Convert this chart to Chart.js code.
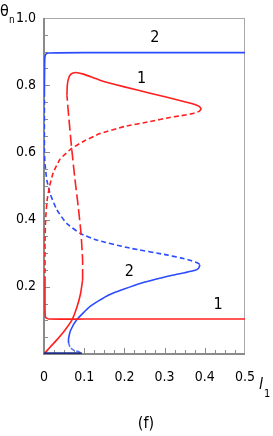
<!DOCTYPE html>
<html>
<head>
<meta charset="utf-8">
<script src="https://cdn.jsdelivr.net/npm/chart.js@4/dist/chart.umd.min.js"></script>
<style>
  body { margin: 0; background: #fff; }
  canvas { display: block; }
</style>
</head>
<body>
<canvas id="myChart" width="273" height="436"></canvas>
<script>
// axis ticks
const xTicks = [0, 0.1, 0.2, 0.3, 0.4, 0.5];
const yTicks = [0, 0.2, 0.4, 0.6, 0.8, 1.0];

// curve 1 (red)
const red_lowSolid = [[0,0],[0.015,0.02],[0.032,0.042],[0.052,0.071],[0.069,0.1],[0.082,0.14],[0.091,0.18],[0.096,0.22]];
const red_longDash = [[0.096,0.22],[0.096,0.28],[0.092,0.36],[0.085,0.44],[0.077,0.52],[0.069,0.61],[0.062,0.70],[0.057,0.77]];
const red_upperSolid = [[0.057,0.77],[0.058,0.80],[0.061,0.82],[0.067,0.833],[0.078,0.838],[0.098,0.833],[0.139,0.815],[0.2,0.795],[0.264,0.776],[0.306,0.764],[0.34,0.754],[0.365,0.746],[0.38,0.74],[0.388,0.735],[0.391,0.729]];
const red_shortDash = [[0.391,0.729],[0.386,0.722],[0.371,0.716],[0.34,0.709],[0.313,0.704],[0.264,0.692],[0.2,0.677],[0.139,0.656],[0.1,0.634],[0.069,0.612],[0.04,0.58],[0.023,0.54],[0.014,0.5],[0.008,0.46],[0.004,0.4],[0.0025,0.33],[0.0025,0.22]];
const red_edgeSolid = [[0.0025,0.22],[0.0025,0.13],[0.004,0.109],[0.012,0.104],[0.1,0.104],[0.5,0.104]];

// curve 2 (blue)
const blue_topSolid = [[0.5,0.897],[0.1,0.897],[0.012,0.896],[0.005,0.893],[0.002,0.88],[0.001,0.78]];
const blue_upperDash = [[0.001,0.78],[0.001,0.6],[0.003,0.56],[0.007,0.518],[0.015,0.478],[0.032,0.429],[0.056,0.389],[0.09,0.359],[0.131,0.339],[0.214,0.315],[0.305,0.295],[0.34,0.286],[0.363,0.279],[0.38,0.272],[0.388,0.266]];
const blue_lowerSolid = [[0.388,0.266],[0.385,0.256],[0.376,0.249],[0.35,0.242],[0.322,0.235],[0.239,0.21],[0.16,0.175],[0.114,0.141],[0.081,0.101],[0.066,0.07],[0.061,0.045],[0.061,0.033]];
const blue_bottomDash = [[0.061,0.033],[0.065,0.02],[0.073,0.012],[0.094,0.004]];
const blue_axis = [[0,0.002],[0.094,0.002]];

// curve numbers
const curveLabels = [
  { text: '2', x: 0.276, y: 0.94 },
  { text: '1', x: 0.243, y: 0.818 },
  { text: '2', x: 0.212, y: 0.245 },
  { text: '1', x: 0.433, y: 0.146 }
];

const RED = '#ff1f1f';
const BLUE = '#2b4bff';
const FONT = "'DejaVu Sans Condensed', 'Liberation Sans', sans-serif";

function pts(arr) {
  return arr.map(p => ({ x: p[0], y: p[1] }));
}

function line(arr, color, dash, width) {
  return {
    data: pts(arr),
    showLine: true,
    borderColor: color,
    borderWidth: width || 1.6,
    borderDash: dash || [],
    pointRadius: 0,
    tension: 0.15,
    fill: false
  };
}

var frame = {
  id: 'frame',
  beforeDatasetsDraw(chart) {
    const c = chart.ctx, a = chart.chartArea;
    const xs = chart.scales.x, ys = chart.scales.y;
    c.save();
    c.strokeStyle = '#a8a8a8';
    c.lineWidth = 1;
    c.strokeRect(a.left + 0.5, a.top + 0.5, a.right - a.left - 1, a.bottom - a.top);
    c.strokeStyle = '#8a8a8a';
    c.lineWidth = 2;
    c.beginPath();
    c.moveTo(a.left, a.top); c.lineTo(a.left, a.bottom);
    c.lineTo(a.right, a.bottom);
    c.stroke();
    // inside ticks
    c.lineWidth = 1;
    c.beginPath();
    for (let k = 1; k < 20; k++) {
      const py = Math.round(ys.getPixelForValue(k * 0.05)) + 0.5;
      const len = (k % 4 === 0) ? 6 : 4;
      c.moveTo(a.left, py); c.lineTo(a.left + len, py);
    }
    for (let k = 1; k < 20; k++) {
      const px = Math.round(xs.getPixelForValue(k * 0.025)) + 0.5;
      const len = (k % 4 === 0) ? 6 : 4;
      c.moveTo(px, a.bottom); c.lineTo(px, a.bottom - len);
    }
    c.stroke();
    c.restore();
  },
  afterDraw(chart) {
    const c = chart.ctx;
    const xs = chart.scales.x, ys = chart.scales.y;
    c.save();
    c.fillStyle = '#000';
    c.textAlign = 'center';
    c.textBaseline = 'middle';
    c.font = '16px ' + FONT;
    for (const l of curveLabels) {
      c.fillText(l.text, xs.getPixelForValue(l.x), ys.getPixelForValue(l.y));
    }
    // axis titles
    c.textAlign = 'left';
    c.textBaseline = 'alphabetic';
    c.font = '16px ' + FONT;
    c.fillText('θ', 0, 16);
    c.font = '10px ' + FONT;
    c.fillText('n', 9, 23);
    c.font = 'italic 16px ' + FONT;
    c.fillText('l', 259, 389);
    c.font = '11px ' + FONT;
    c.fillText('1', 264, 397);
    c.textAlign = 'center';
    c.textBaseline = 'middle';
    c.font = '16px ' + FONT;
    c.fillText('(f)', 146, 424);
    c.restore();
  }
};

var ctx = document.getElementById('myChart');
var a = new Chart(ctx, {
  type: 'scatter',
  data: {
    datasets: [
      line(blue_axis, '#1c2a85', [], 2),
      line(red_lowSolid, RED),
      line(red_longDash, RED, [11, 4]),
      line(red_upperSolid, RED),
      line(red_shortDash, RED, [5, 3]),
      line(red_edgeSolid, RED),
      line(blue_topSolid, BLUE),
      line(blue_upperDash, BLUE, [5, 3]),
      line(blue_lowerSolid, BLUE),
      line(blue_bottomDash, '#5a78ff', [4, 2])
    ]
  },
  options: {
    responsive: false,
    animation: false,
    devicePixelRatio: 1,
    layout: { padding: { left: 0, right: 28, top: 18, bottom: 0 } },
    plugins: { legend: { display: false }, tooltip: { enabled: false } },
    scales: {
      x: {
        type: 'linear', min: 0, max: 0.5,
        afterFit: s => { s.height = 82; },
        afterBuildTicks: s => { s.ticks = xTicks.map(v => ({ value: v })); },
        grid: { display: false, drawTicks: false },
        border: { display: false },
        ticks: {
          padding: 15, color: '#000',
          font: { family: FONT, size: 14 },
          callback: v => v === 0 ? '0' : v.toFixed(1)
        }
      },
      y: {
        type: 'linear', min: 0, max: 1,
        afterFit: s => { s.width = 44; },
        afterBuildTicks: s => { s.ticks = yTicks.map(v => ({ value: v })); },
        grid: { display: false, drawTicks: false },
        border: { display: false },
        ticks: {
          padding: 8, color: '#000',
          font: { family: FONT, size: 14 },
          callback: v => v === 0 ? '' : v.toFixed(1)
        }
      }
    }
  },
  plugins: [frame]
});
</script>
</body>
</html>
